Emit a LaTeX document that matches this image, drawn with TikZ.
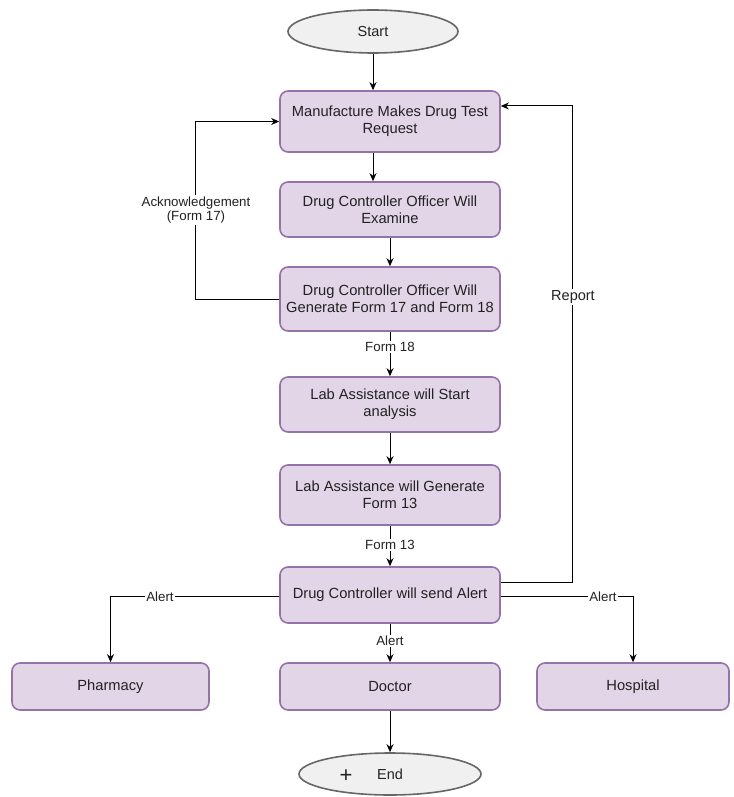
\documentclass[tikz,border=0pt]{standalone}
\usepackage{fontspec}
\setmainfont{Liberation Sans}
\usetikzlibrary{shapes.geometric,arrows.meta}
\definecolor{boxfill}{HTML}{E1D5E7}
\definecolor{boxline}{HTML}{9673A6}
\definecolor{ovfill}{HTML}{F0F0F0}
\definecolor{ovline}{HTML}{666666}
\definecolor{txt}{HTML}{222222}
\tikzset{
  procbox/.style={draw=boxline, fill=boxfill, line width=1.6pt, rounded corners=8pt,
    align=center, text=txt, font=\fontsize{14.7}{17}\selectfont, inner sep=2pt},
  term/.style={ellipse, draw=ovline, fill=ovfill, line width=1.6pt, text=txt,
    font=\fontsize{14.5}{17}\selectfont, inner sep=0pt},
  arr/.style={line width=1pt, -{Stealth[length=8pt,width=7pt,inset=2.5pt]}},
  lbl/.style={fill=white, text=txt, inner sep=1.5pt, align=center,
    font=\fontsize{13.3}{14.5}\selectfont},
}
\begin{document}
\begin{tikzpicture}[x=1pt,y=-1pt]
\useasboundingbox (0,0) rectangle (733,797);
\node[term, minimum width=170pt, minimum height=43pt] (start) at (373,31.5) {Start};
\node[procbox, minimum width=220pt, minimum height=61pt] (b1) at (390,121.5) {Manufacture Makes Drug Test\\Request};
\node[procbox, minimum width=220pt, minimum height=55pt] (b2) at (390,209.5) {Drug Controller Officer Will\\Examine};
\node[procbox, minimum width=220pt, minimum height=64pt] (b3) at (390,299) {Drug Controller Officer Will\\Generate Form 17 and Form 18};
\node[procbox, minimum width=220pt, minimum height=55pt] (b4) at (390,404.5) {Lab Assistance will Start\\analysis};
\node[procbox, minimum width=220pt, minimum height=60pt] (b5) at (390,495) {Lab Assistance will Generate\\Form 13};
\node[procbox, minimum width=220pt, minimum height=56pt] (b6) at (390,595) {Drug Controller will send Alert};
\node[procbox, minimum width=197pt, minimum height=47pt] (pharm) at (110.5,686.5) {Pharmacy};
\node[procbox, minimum width=220pt, minimum height=47pt] (doc) at (390,686.5) {Doctor};
\node[procbox, minimum width=192pt, minimum height=47pt] (hosp) at (633,686.5) {Hospital};
\node[term, minimum width=182pt, minimum height=42pt] (end) at (390,774) {End};
\node[text=txt, font=\fontsize{22}{22}\selectfont] (plus) at (346,776) {+};

% main flow
\draw[arr] (start) -- (start |- b1.north);
\draw[arr] (b1.south -| start) -- (b2.north -| start);
\draw[arr] (b2) -- (b3);
\draw[arr] (b3) -- (b4);
\draw[arr] (b4) -- (b5);
\draw[arr] (b5) -- (b6);
\draw[arr] (b6) -- (doc);
\draw[arr] (doc) -- (end);

% acknowledgement loop
\draw[arr] (b3.west) -- ++(-84,0) coordinate (ackc) |- (b1.west);
% report loop
\draw[arr] ([yshift=13pt]b6.east) -- ++(72,0) coordinate (repc) |- ([yshift=15.5pt]b1.east);
% alerts
\draw[arr] ([yshift=-1.5pt]b6.west) -| (pharm.north);
\draw[arr] ([yshift=-1.5pt]b6.east) -| (hosp.north);

% labels
\node[lbl] (lack) at (196,210) {Acknowledgement\\(Form 17)};
\node[lbl, font=\fontsize{14.5}{16}\selectfont] (lrep) at (573,297) {Report};
\node[lbl] (l18) at (390,347) {Form 18};
\node[lbl] (l13) at (390,545) {Form 13};
\node[lbl] (la1) at (160,596.5) {Alert};
\node[lbl] (la2) at (603,596.5) {Alert};
\node[lbl] (la3) at (390,641) {Alert};
\end{tikzpicture}
\end{document}
